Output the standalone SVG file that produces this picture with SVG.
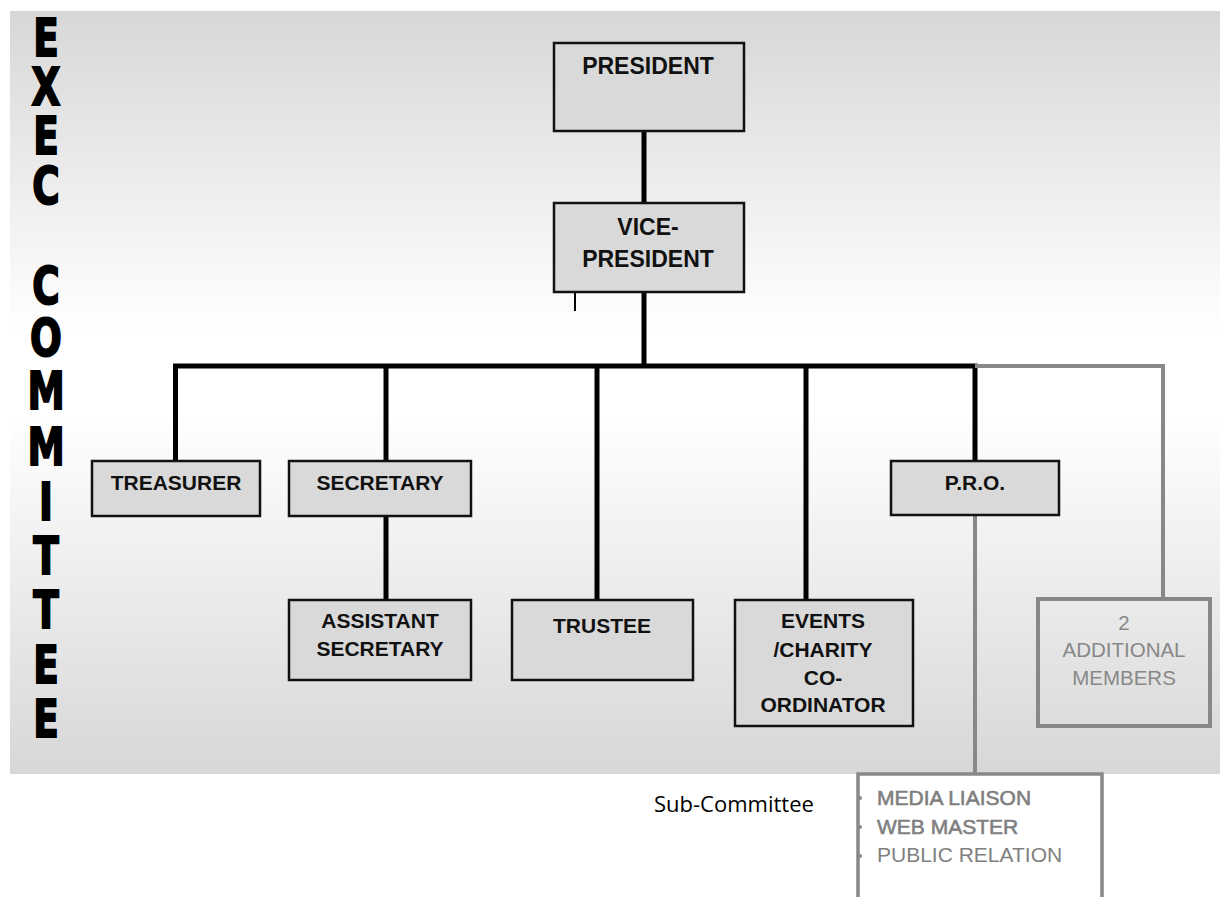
<svg xmlns="http://www.w3.org/2000/svg" width="1220" height="897" viewBox="0 0 1220 897">
<defs>
<linearGradient id="bg" x1="0" y1="0" x2="0" y2="1">
<stop offset="0" stop-color="#d7d7d7"/>
<stop offset="0.42" stop-color="#ffffff"/>
<stop offset="0.53" stop-color="#ffffff"/>
<stop offset="1" stop-color="#d7d7d7"/>
</linearGradient>
<style>
.box{fill:#d9d9d9;stroke:#111;stroke-width:2.5}
.gbox{fill:none;stroke:#888;stroke-width:4}
.sbox{fill:#fff;stroke:#888;stroke-width:3.5}
.t{font-family:"Liberation Sans",Arial,sans-serif;font-weight:bold;font-size:21px;fill:#111;text-anchor:middle}
.t2{font-size:23px}
.gt{font-family:"Liberation Sans",Arial,sans-serif;font-size:20.5px;fill:#888;text-anchor:middle}
.st{font-family:"Liberation Sans",Arial,sans-serif;font-size:21px;fill:#7f7f7f}
.sb{stroke:#7f7f7f;stroke-width:0.6}
.v{font-family:"DejaVu Sans",sans-serif;font-weight:bold;font-size:52px;fill:#000;stroke:#000;stroke-width:2;text-anchor:middle}
.k{stroke:#000;stroke-width:5;fill:none}
.g{stroke:#888;stroke-width:4;fill:none}
</style>
</defs>
<rect x="0" y="0" width="1220" height="897" fill="#fff"/>
<rect x="10" y="11" width="1210" height="763" fill="url(#bg)"/>

<g id="title">
<g transform="translate(46,0) scale(0.72,1)">
<text class="v" x="0 0 0 0 0 0 0 0 0 0 0 0 0 0" y="56 105 154 204 254 304 356 409 465 520 574 628 683 737">EXEC COMMITTEE</text>
</g>
</g>

<g id="connectors">
<line class="k" x1="644" y1="131" x2="644" y2="203"/>
<line class="k" x1="644" y1="292" x2="644" y2="366"/>
<line x1="575" y1="292" x2="575" y2="311" stroke="#000" stroke-width="2"/>
<polyline class="k" points="175.5,461 175.5,366 975,366 975,461"/>
<line class="k" x1="386" y1="366" x2="386" y2="461"/>
<line class="k" x1="386" y1="516" x2="386" y2="600"/>
<line class="k" x1="597" y1="366" x2="597" y2="600"/>
<line class="k" x1="806" y1="366" x2="806" y2="600"/>
<polyline class="g" points="975,366 1163,366 1163,599"/>
<line class="g" x1="975" y1="516" x2="975" y2="774"/>
</g>

<g id="president">
<rect class="box" x="554" y="43" width="190" height="88"/>
<text class="t t2" x="648" y="74">PRESIDENT</text>
</g>
<g id="vice-president">
<rect class="box" x="554" y="203" width="190" height="89"/>
<text class="t t2" x="648" y="235">VICE-</text>
<text class="t t2" x="648" y="267">PRESIDENT</text>
</g>
<g id="treasurer">
<rect class="box" x="92" y="461" width="168" height="55"/>
<text class="t" x="176" y="490">TREASURER</text>
</g>
<g id="secretary">
<rect class="box" x="289" y="461" width="182" height="55"/>
<text class="t" x="380" y="490">SECRETARY</text>
</g>
<g id="assistant-secretary">
<rect class="box" x="289" y="600" width="182" height="80"/>
<text class="t" x="380" y="628">ASSISTANT</text>
<text class="t" x="380" y="656">SECRETARY</text>
</g>
<g id="trustee">
<rect class="box" x="512" y="600" width="181" height="80"/>
<text class="t" x="602" y="633" font-size="22.5">TRUSTEE</text>
</g>
<g id="events">
<rect class="box" x="735" y="600" width="178" height="126"/>
<text class="t" x="823" y="628">EVENTS</text>
<text class="t" x="823" y="657">/CHARITY</text>
<text class="t" x="823" y="685">CO-</text>
<text class="t" x="823" y="712">ORDINATOR</text>
</g>
<g id="pro">
<rect class="box" x="891" y="461" width="168" height="54"/>
<text class="t" x="975" y="490">P.R.O.</text>
</g>
<g id="additional-members">
<rect class="gbox" x="1038" y="599" width="172" height="127"/>
<text class="gt" x="1124" y="630">2</text>
<text class="gt" x="1124" y="657">ADDITIONAL</text>
<text class="gt" x="1124" y="685">MEMBERS</text>
</g>
<g id="sub-committee">
<path class="sbox" d="M858,897 V774 H1102 V897"/>
<circle cx="860" cy="798" r="2" fill="#888"/>
<circle cx="860" cy="827" r="2" fill="#888"/>
<circle cx="860" cy="856" r="2" fill="#888"/>
<text class="st sb" x="877" y="805">MEDIA LIAISON</text>
<text class="st sb" x="877" y="834">WEB MASTER</text>
<text class="st" x="877" y="862">PUBLIC RELATION</text>
</g>
<text x="654" y="812" font-family="'Open Sans','Liberation Sans',sans-serif" font-size="22px" fill="#000">Sub-Committee</text>
</svg>
